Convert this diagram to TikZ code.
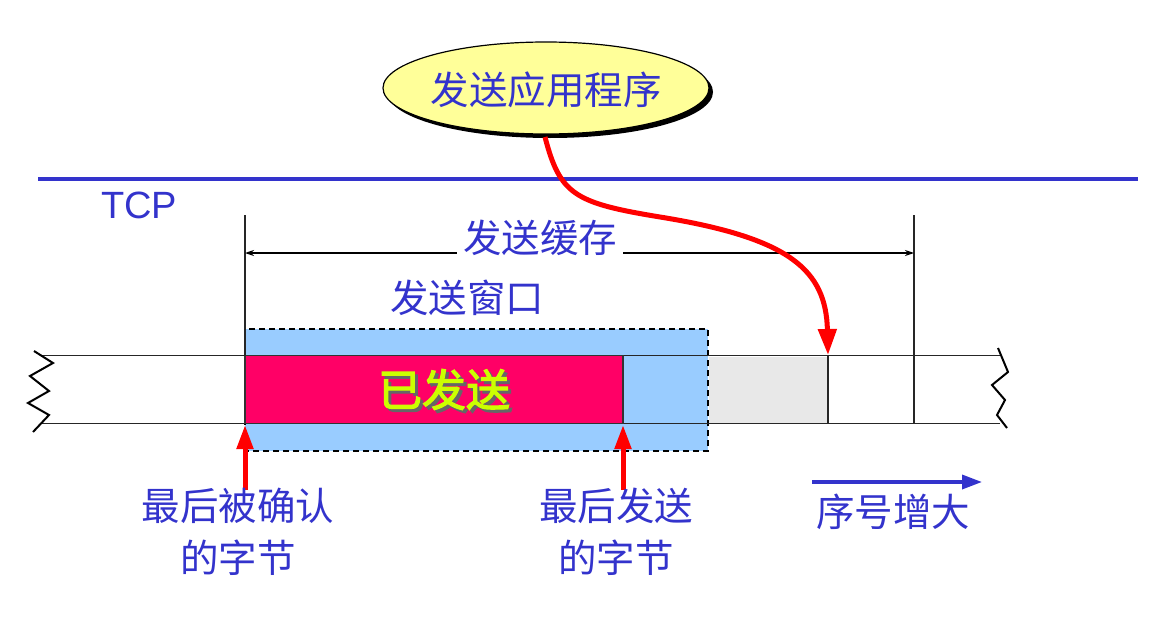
\documentclass[tikz,border=0pt]{standalone}
\usepackage{fontspec}
\setmainfont{Liberation Sans}
\newfontfamily\cjk{Noto Sans CJK SC}
\newfontfamily\cjkb{Noto Sans CJK SC}[FakeBold=2.5]
\usetikzlibrary{arrows.meta,shapes.geometric}
\definecolor{tblue}{RGB}{51,51,204}
\definecolor{winblue}{RGB}{153,204,255}
\definecolor{sentred}{RGB}{255,0,102}
\definecolor{lgray}{RGB}{232,232,232}
\definecolor{ylw}{RGB}{255,255,153}
\definecolor{lime}{RGB}{204,255,0}
\tikzset{
  lbl/.style={text=tblue,font=\cjk\fontsize{38.5}{47}\selectfont,inner sep=0pt,align=center},
  redarrow/.style={red,line width=5pt,-{Triangle[width=16pt,length=24pt]}},
  thinline/.style={black!85,line width=1.3pt},
}
\begin{document}
\begin{tikzpicture}[x=1pt,y=-1pt]
\useasboundingbox (0,0) rectangle (1158,618);
% TCP line
\draw[tblue,line width=3.5pt] (38,179) -- (1138,179);
\node[text=tblue,font=\fontsize{38}{44}\selectfont,inner sep=0pt] (tcp) at (139,205) {TCP};
% application ellipse
\fill[black] (550,92) ellipse (163pt and 46pt);
\node[ellipse,draw=black,line width=1.2pt,fill=ylw,minimum width=326pt,minimum height=92pt,inner sep=0pt] (app) at (546,88) {};
\node[lbl] (applbl) at (546,90) {发送应用程序};
% window
\draw[black,dash pattern=on 6pt off 4pt,line width=1.3pt,fill=winblue] (245,329) rectangle (708,451);
% band
\draw[thinline] (40,355.5) -- (1000,355.5);
\draw[thinline] (40,423.5) -- (1000,423.5);
% sent region
\draw[black!80,line width=1.3pt,fill=sentred] (245,355.5) rectangle (623,423.5);
\fill[lgray] (709,356.5) rectangle (828,422.5);
\draw[thinline] (828,355.5) -- (828,423.5);
\draw[thinline] (914,215) -- (914,423.5);
\draw[thinline] (245,215) -- (245,355.5);
% zigzags
\draw[black,line width=2pt] (34,351) -- (53,363) -- (30,376) -- (49,391) -- (28,403) -- (49,415) -- (33,432);
\draw[black,line width=2pt] (998,348) -- (1008,372) -- (992,385) -- (1005,400) -- (997,415) -- (1007,428);
% sent label with shadow
\node[font=\cjkb\fontsize{44}{52}\selectfont,inner sep=0pt] (sent) at (444,391)
  {\rlap{\hspace{3pt}\raisebox{-3pt}{\color{black!60}已发送}}\color{lime}已发送};
% buffer dimension
\coordinate (bl) at (245,253);
\coordinate (br) at (914,253);
\draw[black,line width=1.2pt,{Stealth[length=9pt,width=6pt]}-{Stealth[length=9pt,width=6pt]}] (bl) -- (br);
\node[lbl,fill=white,inner xsep=6pt] (buf) at (540,238) {发送缓存};
\node[lbl] (winlbl) at (467,298) {发送窗口};
% red curve
\coordinate (tip) at (828,355);
\draw[red,line width=5pt,-{Triangle[width=18pt,length=26pt]}] (545,137) .. controls (560,195) and (575,203) .. (660,217) .. controls (790,238) and (826,270) .. (tip);
% bottom arrows
\coordinate (ack) at (245,425);
\coordinate (ackfoot) at (245,490);
\coordinate (snd) at (623,425);
\coordinate (sndfoot) at (623,490);
\draw[redarrow] (ackfoot) -- (ack);
\draw[redarrow] (sndfoot) -- (snd);
\node[lbl] (acklbl) at (238,532) {最后被确认\\[5pt]的字节};
\node[lbl] (sndlbl) at (616,532) {最后发送\\[5pt]的字节};
% sequence arrow
\coordinate (sa) at (812,482);
\coordinate (sb) at (982,482);
\draw[tblue,line width=3.5pt,-{Triangle[width=14pt,length=20pt]}] (sa) -- (sb);
\node[lbl] (seq) at (893,512) {序号增大};
\end{tikzpicture}
\end{document}
